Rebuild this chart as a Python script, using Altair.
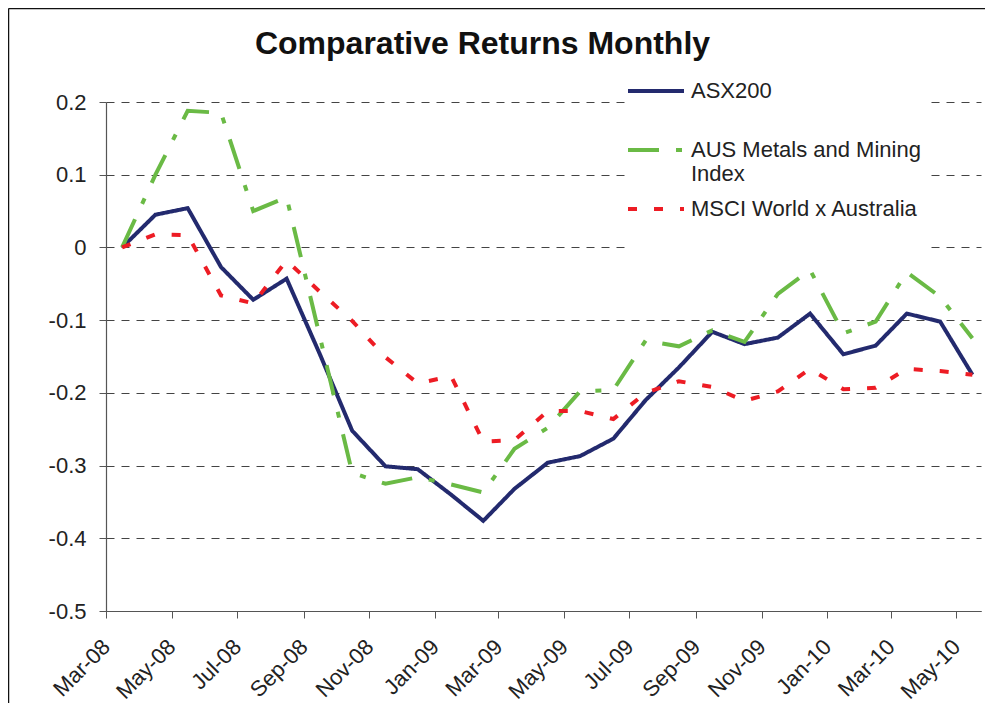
import altair as alt
import pandas as pd

# ---- data ----
months = [
    "2008-03-16", "2008-04-16", "2008-05-16", "2008-06-16", "2008-07-16", "2008-08-16",
    "2008-09-16", "2008-10-16", "2008-11-16", "2008-12-16", "2009-01-16", "2009-02-15",
    "2009-03-16", "2009-04-16", "2009-05-16", "2009-06-16", "2009-07-16", "2009-08-16",
    "2009-09-16", "2009-10-16", "2009-11-16", "2009-12-16", "2010-01-16", "2010-02-15",
    "2010-03-16", "2010-04-16", "2010-05-16",
]
asx200 = [0.0, 0.045, 0.054, -0.027, -0.072, -0.043, -0.147, -0.252, -0.301, -0.305,
          -0.340, -0.376, -0.332, -0.296, -0.287, -0.263, -0.210, -0.165, -0.116, -0.133,
          -0.124, -0.091, -0.147, -0.135, -0.091, -0.102, -0.175]
aus_metals = [0.0, 0.100, 0.188, 0.185, 0.050, 0.069, -0.123, -0.310, -0.325, -0.316,
              -0.326, -0.337, -0.277, -0.248, -0.198, -0.196, -0.128, -0.136, -0.114, -0.130,
              -0.064, -0.031, -0.118, -0.102, -0.034, -0.068, -0.125]
msci = [0.0, 0.018, 0.017, -0.066, -0.077, -0.018, -0.061, -0.101, -0.151, -0.187,
        -0.177, -0.267, -0.265, -0.225, -0.225, -0.236, -0.200, -0.184, -0.192, -0.211,
        -0.198, -0.167, -0.195, -0.193, -0.167, -0.170, -0.175]

series_names = ["ASX200", "AUS Metals and Mining Index", "MSCI World x Australia"]
series_values = [asx200, aus_metals, msci]
series_colors = ["#232a6e", "#6aba45", "#ed1c24"]
series_dashes = [[1, 0], [31, 17, 6, 17], [9, 17]]

tick_years_months = [(2008, 3), (2008, 5), (2008, 7), (2008, 9), (2008, 11),
                     (2009, 1), (2009, 3), (2009, 5), (2009, 7), (2009, 9), (2009, 11),
                     (2010, 1), (2010, 3), (2010, 5)]
y_ticks = [0.2, 0.1, 0, -0.1, -0.2, -0.3, -0.4, -0.5]

rows = []
for name, vals in zip(series_names, series_values):
    for m, v in zip(months, vals):
        rows.append({"month": m, "series": name, "value": v})
df = pd.DataFrame(rows)

FONT = "Liberation Sans"
W, H = 875, 509

x_axis = alt.Axis(
    values=[alt.DateTime(year=y, month=m, date=1, utc=True) for y, m in tick_years_months],
    labelExpr="utcFormat(datum.value, '%b-%y')", labelAngle=-45, labelAlign="right",
    labelBaseline="middle", labelPadding=25, labelFontSize=22, labelFont=FONT,
    labelColor="#222", tickSize=7, tickColor="#555", domainColor="#555",
    domainWidth=1.2, grid=False, title=None, labelOverlap=False, labelFlush=False,
)
y_axis = alt.Axis(
    values=y_ticks,
    labelExpr="datum.value == 0 ? '0' : (datum.value < 0 ? '-' : '') + format(abs(datum.value), '.1f')",
    grid=True, gridDash=[8, 7], gridColor="#444", gridWidth=1, tickSize=7,
    tickColor="#555", domainColor="#555", domainWidth=1.2, labelPadding=13,
    labelFontSize=22, labelFont=FONT, labelColor="#222", title=None,
)

legend = alt.Legend(
    title=None, orient="none", legendX=525, legendY=-36, fillColor="white",
    padding=9, symbolType="M-2,0H2", symbolSize=784, symbolStrokeWidth=4,
    labelFontSize=22, labelFont=FONT, labelColor="#222", labelLimit=400,
    labelOffset=19, rowPadding=8,
    labelExpr=("datum.label == 'AUS Metals and Mining Index' ? ['AUS Metals and Mining', 'Index']"
               " : [datum.label, ' ']"),
)

lines = alt.Chart(df).mark_line(strokeWidth=4).encode(
    x=alt.X("month:T", axis=x_axis,
            scale=alt.Scale(type="utc", domain=[
                alt.DateTime(year=2008, month=3, date=1, utc=True),
                alt.DateTime(year=2010, month=5, date=24, utc=True)])),
    y=alt.Y("value:Q", axis=y_axis, scale=alt.Scale(domain=[-0.5, 0.2], nice=False, zero=False)),
    color=alt.Color("series:N", legend=legend,
                    scale=alt.Scale(domain=series_names, range=series_colors)),
    strokeDash=alt.StrokeDash("series:N", legend=legend,
                              scale=alt.Scale(domain=series_names, range=series_dashes)),
)

frame_df = pd.DataFrame({"k": [0]})
frame_left = alt.Chart(frame_df).mark_rule(color="#111", strokeWidth=1.5).encode(
    x=alt.value(-97.5), y=alt.value(-93.5), y2=alt.value(H + 120))
frame_top = alt.Chart(frame_df).mark_rule(color="#111", strokeWidth=1.5).encode(
    x=alt.value(-97.5), x2=alt.value(W + 20), y=alt.value(-93.5))

chart = alt.layer(frame_left, frame_top, lines).properties(
    width=W, height=H,
    padding={"left": 98, "top": 94, "right": 4, "bottom": 92},
    autosize=alt.AutoSizeParams(type="none"),
    title=alt.Title("Comparative Returns Monthly", font=FONT, fontSize=32,
                    fontWeight="bold", color="#111", anchor="middle", frame="group",
                    dx=-61, dy=78, offset=0, baseline="alphabetic"),
).configure_view(stroke=None)

chart.save("out.html", embed_options={"renderer": "svg", "actions": False})
